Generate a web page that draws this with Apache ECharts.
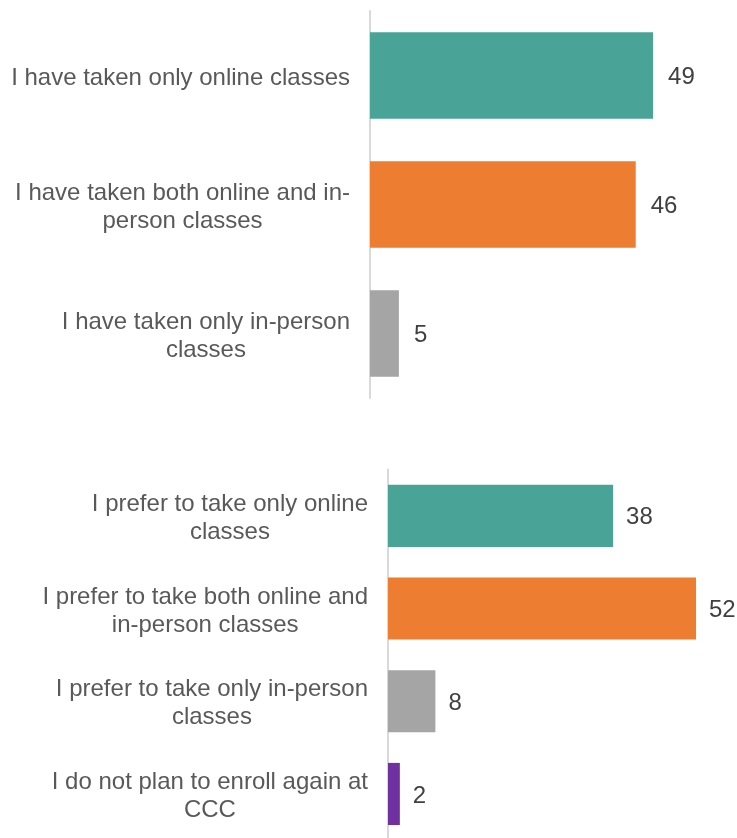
<!DOCTYPE html>
<html>
<head>
<meta charset="utf-8">
<script src="https://cdn.jsdelivr.net/npm/echarts@6/dist/echarts.min.js"></script>
<style>
  html, body { margin: 0; padding: 0; background: #ffffff; }
  #chart { width: 737px; height: 838px; }
</style>
</head>
<body>
<div id="chart"></div>
<script>
// Past enrollment mode (percent)
const topCategories = [
  "I have taken only online classes",
  "I have taken both online and in-\nperson classes",
  "I have taken only in-person\nclasses"
];
const topValues = [49, 46, 5];
const topColors = ["#4AA397", "#ED7D31", "#A5A5A5"];

// Preferred enrollment mode (percent)
const bottomCategories = [
  "I prefer to take only online\nclasses",
  "I prefer to take both online and\nin-person classes",
  "I prefer to take only in-person\nclasses",
  "I do not plan to enroll again at\nCCC"
];
const bottomValues = [38, 52, 8, 2];
const bottomColors = ["#4AA397", "#ED7D31", "#A5A5A5", "#7030A0"];

const FONT = '"Liberation Sans", Arial, sans-serif';

// Each line centred inside the label block, the block right-aligned to the axis
function centredLines(value) {
  return value.split('\n').map(l => '{c|' + l + '}').join('\n');
}

function categoryAxis(gridIndex, cats) {
  return {
    type: 'category',
    gridIndex: gridIndex,
    data: cats,
    inverse: true,
    axisLine: { show: true, lineStyle: { color: '#D9D9D9', width: 2 } },
    axisTick: { show: false },
    axisLabel: {
      margin: 20,
      padding: [5, 0, 0, 0],
      formatter: centredLines,
      rich: {
        c: { align: 'center', fontSize: 24, lineHeight: 28, color: '#595959', fontFamily: FONT }
      }
    }
  };
}

function valueAxis(gridIndex) {
  return { type: 'value', gridIndex: gridIndex, min: 0, max: 60, show: false, splitLine: { show: false } };
}

function barSeries(idx, values, colors, dist) {
  return {
    type: 'bar',
    xAxisIndex: idx,
    yAxisIndex: idx,
    barCategoryGap: '33%',
    data: values.map((v, i) => ({ value: v, itemStyle: { color: colors[i] } })),
    label: {
      show: true,
      position: 'right',
      distance: dist,
      offset: [0, 2],
      fontSize: 24,
      color: '#404040',
      fontFamily: FONT
    },
    animation: false
  };
}

const chart = echarts.init(document.getElementById('chart'), null, { renderer: 'canvas' });
chart.setOption({
  backgroundColor: '#ffffff',
  textStyle: { fontFamily: FONT },
  grid: [
    { left: 370, top: 11, width: 346.6, height: 387, outerBoundsMode: 'none', containLabel: false },
    { left: 388, top: 469.5, width: 355.4, height: 370.8, outerBoundsMode: 'none', containLabel: false }
  ],
  xAxis: [valueAxis(0), valueAxis(1)],
  yAxis: [categoryAxis(0, topCategories), categoryAxis(1, bottomCategories)],
  series: [
    barSeries(0, topValues, topColors, 15),
    barSeries(1, bottomValues, bottomColors, 13)
  ]
});
</script>
</body>
</html>
